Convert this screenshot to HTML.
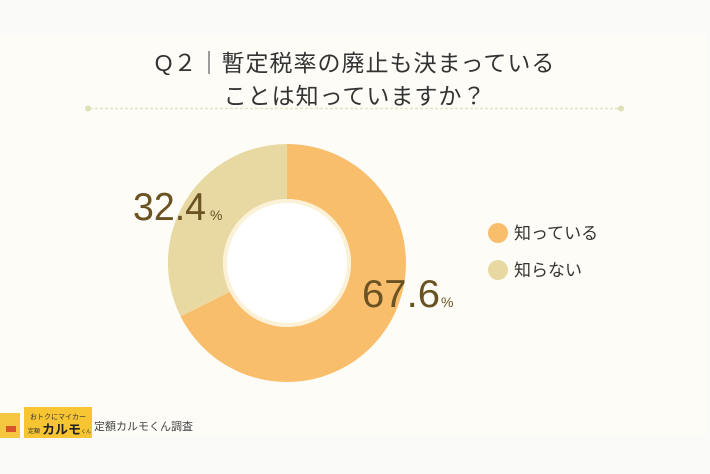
<!DOCTYPE html>
<html><head><meta charset="utf-8"><style>
body{margin:0;width:710px;height:474px;background:#fafaf9;overflow:hidden;position:relative;font-family:"Liberation Sans","Noto Sans CJK JP",sans-serif}
.panel{position:absolute;left:0;top:35px;width:707px;height:400px;background:#fdfcf7}
.t{position:absolute;left:0;width:710px;text-align:center;color:#333;font-size:23px;letter-spacing:1px}
</style></head><body>
<div class="panel"></div>
<div class="t" style="top:44px">Q２｜暫定税率の廃止も決まっている</div>
<div class="t" style="top:77px">ことは知っていますか？</div>
<svg width="710" height="474" style="position:absolute;left:0;top:0">
<line x1="90" y1="108.5" x2="620" y2="108.5" stroke="#e6e3c4" stroke-width="1.5" stroke-dasharray="3 2"/>
<circle cx="88" cy="108.5" r="3" fill="#dfe0b5"/><circle cx="621" cy="108.5" r="3" fill="#dfe0b5"/>
<path d="M287,144 A119,119 0 1 1 180.6,316.4 L229.8,291.7 A64,64 0 1 0 287,199 Z" fill="#f9be6c"/>
<path d="M287,144 A119,119 0 0 0 180.6,316.4 L229.8,291.7 A64,64 0 0 1 287,199 Z" fill="#e8d9a2"/>
<circle cx="287" cy="263" r="64" fill="#fbf1d6"/>
<circle cx="287" cy="263" r="60" fill="#fff"/>
<text x="133" y="220" font-size="39" fill="#6b5222" font-family="Liberation Sans" textLength="73" lengthAdjust="spacingAndGlyphs">32.4</text>
<text x="210" y="220" font-size="14" fill="#6b5222">%</text>
<text x="362" y="307" font-size="39" fill="#6b5222" font-family="Liberation Sans" textLength="78" lengthAdjust="spacingAndGlyphs">67.6</text>
<text x="441" y="307" font-size="14" fill="#6b5222">%</text>
<circle cx="498" cy="233" r="10" fill="#f9be6c"/>
<circle cx="498" cy="270" r="10" fill="#e8d9a2"/>
<text x="514" y="239" font-size="17" fill="#333" font-family="Liberation Sans,Noto Sans CJK JP,sans-serif">知っている</text>
<text x="514" y="276" font-size="17" fill="#333" font-family="Liberation Sans,Noto Sans CJK JP,sans-serif">知らない</text>
<rect x="0" y="413" width="20" height="25" fill="#f5c640"/>
<rect x="6" y="426" width="10" height="6" fill="#d9532b"/>
<rect x="24" y="407" width="68" height="31" fill="#f7c531"/>
<text x="58" y="419" font-size="7" fill="#333" text-anchor="middle" font-family="Liberation Sans,Noto Sans CJK JP,sans-serif">おトクにマイカー</text>
<text x="28" y="433" font-size="6" fill="#333" font-family="Liberation Sans,Noto Sans CJK JP,sans-serif">定額</text>
<text x="42" y="434" font-size="13" font-weight="bold" fill="#222" font-family="Liberation Sans,Noto Sans CJK JP,sans-serif">カルモ</text>
<text x="81" y="433" font-size="5" fill="#333" font-family="Liberation Sans,Noto Sans CJK JP,sans-serif">くん</text>
<text x="94" y="430" font-size="11" fill="#444" font-family="Liberation Sans,Noto Sans CJK JP,sans-serif">定額カルモくん調査</text>
</svg>
</body></html>
